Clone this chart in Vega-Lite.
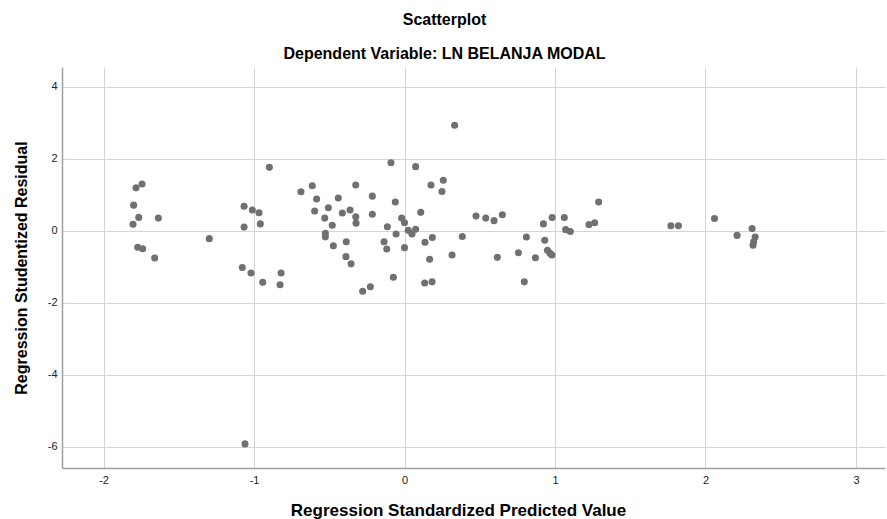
{
  "$schema": "https://vega.github.io/schema/vega-lite/v6.json",
  "width": 823,
  "height": 401,
  "autosize": {"type": "none"},
  "padding": {"left": 62, "top": 67, "right": 2, "bottom": 51},
  "background": "white",
  "title": {
    "text": "Scatterplot",
    "subtitle": "Dependent Variable: LN BELANJA MODAL",
    "anchor": "middle",
    "dx": -29,
    "offset": 5,
    "font": "Liberation Sans",
    "fontSize": 16,
    "fontWeight": "bold",
    "color": "#000000",
    "subtitleFont": "Liberation Sans",
    "subtitleFontSize": 16,
    "subtitleFontWeight": "bold",
    "subtitleColor": "#000000",
    "subtitlePadding": 18
  },
  "config": {
    "view": {"stroke": null},
    "axis": {
      "labelFont": "Liberation Sans",
      "labelFontSize": 11,
      "labelColor": "#222222",
      "titleFont": "Liberation Sans",
      "titleFontWeight": "bold",
      "titleColor": "#000000",
      "domainColor": "#a0a0a0",
      "domainWidth": 1.5,
      "gridColor": "#d4d4d4",
      "gridWidth": 1,
      "ticks": false,
      "tickSize": 0
    }
  },
  "data": {
    "values": [
      {"x": -1.784, "y": 1.19}, {"x": -1.744, "y": 1.30}, {"x": -1.80, "y": 0.71},
      {"x": -1.766, "y": 0.37}, {"x": -1.804, "y": 0.18}, {"x": -1.636, "y": 0.35},
      {"x": -1.773, "y": -0.46}, {"x": -1.74, "y": -0.50}, {"x": -1.66, "y": -0.76},
      {"x": -1.297, "y": -0.22}, {"x": -1.066, "y": 0.68}, {"x": -1.066, "y": 0.10},
      {"x": -1.078, "y": -1.02}, {"x": -0.898, "y": 1.76}, {"x": -1.011, "y": 0.575},
      {"x": -0.967, "y": 0.50}, {"x": -0.958, "y": 0.19}, {"x": -1.02, "y": -1.175},
      {"x": -0.942, "y": -1.43}, {"x": -0.82, "y": -1.175}, {"x": -0.827, "y": -1.50},
      {"x": -0.688, "y": 1.08}, {"x": -0.613, "y": 1.25}, {"x": -0.584, "y": 0.88},
      {"x": -0.597, "y": 0.55}, {"x": -0.506, "y": 0.64}, {"x": -0.44, "y": 0.91},
      {"x": -0.53, "y": 0.35}, {"x": -0.48, "y": 0.15}, {"x": -0.526, "y": -0.07},
      {"x": -0.526, "y": -0.17}, {"x": -0.473, "y": -0.42}, {"x": -0.413, "y": 0.49},
      {"x": -0.362, "y": 0.575}, {"x": -0.324, "y": 0.39}, {"x": -0.322, "y": 0.21},
      {"x": -0.324, "y": 1.27}, {"x": -0.214, "y": 0.96}, {"x": -0.214, "y": 0.455},
      {"x": -0.387, "y": -0.305}, {"x": -0.389, "y": -0.72}, {"x": -0.355, "y": -0.92},
      {"x": -0.278, "y": -1.68}, {"x": -0.227, "y": -1.555}, {"x": -0.09, "y": 1.89},
      {"x": 0.074, "y": 1.78}, {"x": 0.176, "y": 1.27}, {"x": 0.258, "y": 1.40},
      {"x": 0.249, "y": 1.09}, {"x": -0.061, "y": 0.80}, {"x": 0.108, "y": 0.51},
      {"x": -0.019, "y": 0.35}, {"x": 0.0, "y": 0.22}, {"x": -0.114, "y": 0.11},
      {"x": -0.056, "y": -0.09}, {"x": 0.025, "y": 0.01}, {"x": 0.074, "y": 0.04},
      {"x": 0.05, "y": -0.09}, {"x": -0.136, "y": -0.305}, {"x": -0.118, "y": -0.51},
      {"x": 0.0, "y": -0.47}, {"x": 0.136, "y": -0.32}, {"x": 0.185, "y": -0.19},
      {"x": 0.384, "y": -0.16}, {"x": 0.167, "y": -0.79}, {"x": 0.316, "y": -0.675},
      {"x": -0.074, "y": -1.29}, {"x": 0.134, "y": -1.45}, {"x": 0.183, "y": -1.42},
      {"x": 0.475, "y": 0.41}, {"x": 0.54, "y": 0.35}, {"x": 0.595, "y": 0.28},
      {"x": 0.65, "y": 0.445}, {"x": 0.617, "y": -0.74}, {"x": 0.333, "y": 2.93},
      {"x": 0.757, "y": -0.61}, {"x": 0.81, "y": -0.175}, {"x": 0.87, "y": -0.75},
      {"x": 0.923, "y": 0.19}, {"x": 0.981, "y": 0.365}, {"x": 0.932, "y": -0.265},
      {"x": 0.95, "y": -0.545}, {"x": 0.967, "y": -0.63}, {"x": 0.98, "y": -0.675},
      {"x": 1.062, "y": 0.365}, {"x": 1.071, "y": 0.03}, {"x": 1.102, "y": -0.02},
      {"x": 1.226, "y": 0.17}, {"x": 1.264, "y": 0.22}, {"x": 1.29, "y": 0.80},
      {"x": 0.796, "y": -1.42}, {"x": 1.77, "y": 0.14}, {"x": 1.82, "y": 0.14},
      {"x": 2.06, "y": 0.34}, {"x": 2.21, "y": -0.13}, {"x": 2.31, "y": 0.06},
      {"x": 2.33, "y": -0.175}, {"x": 2.32, "y": -0.305}, {"x": 2.316, "y": -0.405},
      {"x": -1.06, "y": -5.92}
    ]
  },
  "mark": {"type": "circle", "size": 50, "color": "#707070", "opacity": 1},
  "encoding": {
    "x": {
      "field": "x",
      "type": "quantitative",
      "scale": {"domain": [-2.276, 3.193], "nice": false, "zero": false},
      "axis": {
        "title": "Regression Standardized Predicted Value",
        "values": [-2, -1, 0, 1, 2, 3],
        "labelExpr": "'' + datum.value",
        "labelPadding": 6,
        "titleFontSize": 17,
        "titleX": 396,
        "titleY": 34,
        "titleBaseline": "top"
      }
    },
    "y": {
      "field": "y",
      "type": "quantitative",
      "scale": {"domain": [-6.59, 4.547], "nice": false, "zero": false},
      "axis": {
        "title": "Regression Studentized Residual",
        "values": [-6, -4, -2, 0, 2, 4],
        "labelExpr": "'' + datum.value",
        "labelPadding": 5,
        "titleFontSize": 16,
        "titlePadding": 18
      }
    }
  }
}
